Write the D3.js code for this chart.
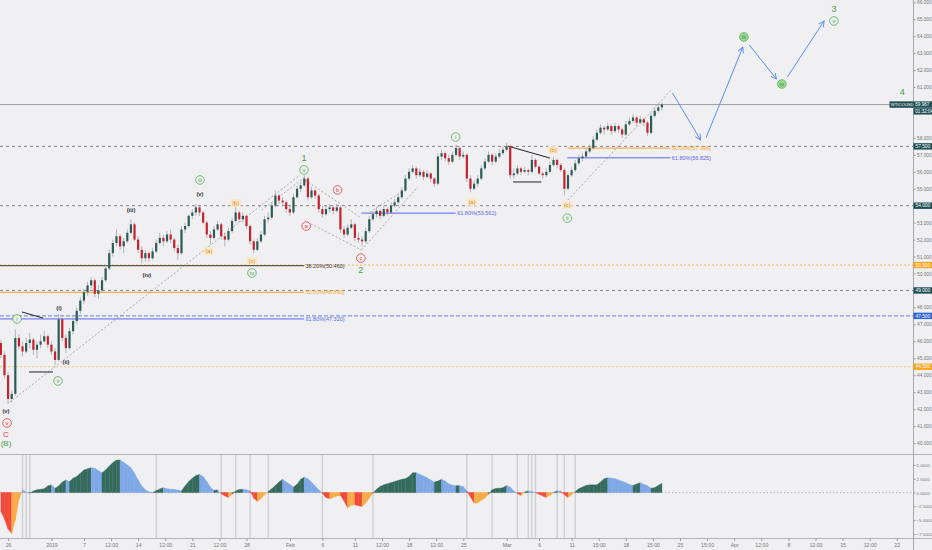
<!DOCTYPE html>
<html>
<head>
<meta charset="utf-8">
<script src="https://cdn.jsdelivr.net/npm/d3@7"></script>
<style>
body { margin: 0; background: #f0f0f2; }
svg { display: block; font-family: "Liberation Sans", Arial, sans-serif; }
</style>
</head>
<body>
<div id="chart"></div>
<script>
// WTI candles, 3 bars per trading day, [open, high, low, close]
const firstBarDay = -7.67
const barsPerDay = 3
const candles = [
  [45.9,46.1,45.0,45.2],[45.2,45.4,43.8,44.0],[44.0,44.2,42.3,42.6],[42.6,43.1,42.4,42.9],[42.9,46.7,42.8,46.2],
  [46.2,46.4,45.5,45.7],[45.7,46.0,45.1,45.4],[45.4,46.2,45.3,45.9],[45.9,46.5,45.6,46.1],[46.1,46.2,45.2,45.5],
  [45.5,46.0,45.0,45.8],[45.8,46.4,45.6,46.0],[46.0,46.6,45.9,46.3],[46.3,46.4,45.6,45.8],[45.8,46.0,45.2,45.4],
  [45.4,45.6,44.6,44.9],[44.9,47.6,44.8,47.3],[47.3,47.4,46.0,46.2],[46.2,46.4,45.3,45.6],[45.6,46.8,45.5,46.6],
  [46.6,47.4,46.4,47.2],[47.2,48.0,47.0,47.8],[47.8,48.6,47.6,48.4],[48.4,49.1,48.2,48.9],[48.9,49.5,48.7,49.3],
  [49.3,49.8,49.1,49.6],[49.6,49.7,48.6,48.8],[48.8,49.3,48.5,49.0],[49.0,49.8,48.9,49.6],[49.6,50.5,49.5,50.3],
  [50.3,51.4,50.2,51.2],[51.2,52.0,51.0,51.8],[51.8,52.6,51.6,52.2],[52.2,52.3,51.4,51.6],[51.6,52.1,51.2,51.9],
  [51.9,52.6,51.8,52.4],[52.4,53.2,52.3,52.9],[52.9,53.0,51.9,52.0],[52.0,52.2,51.2,51.4],[51.4,51.6,50.6,50.9],
  [50.9,51.4,50.7,51.2],[51.2,51.3,50.7,50.9],[50.9,51.5,50.8,51.3],[51.3,52.0,51.2,51.8],[51.8,52.4,51.7,52.1],
  [52.1,52.3,51.6,51.9],[51.9,52.5,51.8,52.3],[52.3,52.6,51.8,52.0],[52.0,52.1,51.3,51.5],[51.5,51.7,50.8,51.2],
  [51.2,52.8,51.1,52.6],[52.6,53.0,52.4,52.8],[52.8,53.5,52.7,53.4],[53.4,53.8,53.2,53.6],[53.6,54.1,53.4,53.9],
  [53.9,54.0,53.4,53.6],[53.6,53.7,52.9,53.0],[53.0,53.1,52.1,52.3],[52.3,52.5,51.7,52.1],[52.1,52.8,52.0,52.6],
  [52.6,53.1,52.5,52.9],[52.9,53.0,52.0,52.2],[52.2,52.4,51.6,52.0],[52.0,52.7,51.9,52.5],[52.5,53.3,52.4,53.1],
  [53.1,53.9,53.0,53.6],[53.6,53.7,53.0,53.2],[53.2,53.6,53.0,53.4],[53.4,53.5,52.6,52.8],[52.8,52.9,51.7,51.9],
  [51.9,52.0,51.2,51.4],[51.4,52.1,51.3,51.9],[51.9,52.5,51.8,52.3],[52.3,53.4,52.2,53.2],[53.2,53.6,53.0,53.3],
  [53.3,54.2,53.2,54.0],[54.0,54.9,53.9,54.6],[54.6,54.7,54.1,54.3],[54.3,54.5,54.0,54.2],[54.2,54.3,53.6,53.8],
  [53.8,54.0,53.4,53.6],[53.6,54.7,53.5,54.5],[54.5,55.2,54.4,55.0],[55.0,55.4,54.8,55.2],[55.2,55.8,55.1,55.6],
  [55.6,55.7,54.3,54.5],[54.5,55.1,54.4,54.9],[54.9,55.0,54.4,54.6],[54.6,54.7,53.6,53.8],[53.8,54.0,53.3,53.5],
  [53.5,54.0,53.4,53.8],[53.8,54.1,53.6,53.9],[53.9,54.0,53.5,53.7],[53.7,54.1,53.6,53.9],[53.9,54.0,52.4,52.6],
  [52.6,52.8,52.1,52.3],[52.3,52.9,52.2,52.7],[52.7,53.2,52.6,52.9],[52.9,53.0,51.9,52.1],[52.1,52.4,51.8,52.0],
  [52.0,52.2,51.6,51.9],[51.9,52.7,51.8,52.5],[52.5,53.4,52.4,53.2],[53.2,53.7,53.1,53.5],[53.5,53.9,53.3,53.7],
  [53.7,53.8,53.2,53.4],[53.4,54.0,53.3,53.8],[53.8,53.9,53.4,53.6],[53.6,54.2,53.5,54.0],[54.0,54.4,53.9,54.2],
  [54.2,54.7,54.1,54.5],[54.5,55.1,54.4,54.9],[54.9,55.8,54.8,55.6],[55.6,56.2,55.5,56.0],[56.0,56.4,55.9,56.2],
  [56.2,56.3,55.6,55.8],[55.8,56.2,55.7,56.0],[56.0,56.1,55.5,55.7],[55.7,56.1,55.6,55.9],[55.9,56.0,55.4,55.6],
  [55.6,55.7,55.1,55.3],[55.3,57.1,55.2,56.9],[56.9,57.3,56.7,57.1],[57.1,57.2,56.6,56.8],[56.8,57.0,56.4,56.6],
  [56.6,57.2,56.5,57.0],[57.0,57.6,56.9,57.4],[57.4,57.5,56.7,56.9],[56.9,57.2,56.8,57.0],[57.0,57.1,55.4,55.6],
  [55.6,55.8,54.8,55.0],[55.0,55.5,54.9,55.3],[55.3,55.8,55.1,55.6],[55.6,56.4,55.5,56.2],[56.2,56.8,56.1,56.6],
  [56.6,57.2,56.5,57.0],[57.0,57.1,56.4,56.6],[56.6,57.1,56.5,56.9],[56.9,57.3,56.8,57.1],[57.1,57.5,57.0,57.3],
  [57.3,57.7,57.2,57.5],[57.5,57.6,55.6,55.8],[55.8,56.2,55.6,55.9],[55.9,56.4,55.8,56.2],[56.2,56.3,55.8,56.0],
  [56.0,56.3,55.9,56.1],[56.1,56.2,55.8,56.0],[56.0,57.0,55.9,56.7],[56.7,56.8,56.2,56.3],[56.3,56.4,55.8,55.9],
  [55.9,56.0,55.6,55.8],[55.8,56.2,55.7,56.0],[56.0,56.6,55.9,56.4],[56.4,56.9,56.3,56.7],[56.7,56.8,56.2,56.4],
  [56.4,56.5,56.0,56.1],[56.1,56.2,54.6,55.0],[55.0,55.9,54.9,55.8],[55.8,56.3,55.7,56.1],[56.1,56.7,56.0,56.5],
  [56.5,57.0,56.4,56.8],[56.8,57.1,56.6,56.9],[56.9,57.4,56.8,57.2],[57.2,57.6,57.1,57.4],[57.4,58.1,57.3,57.9],
  [57.9,58.5,57.8,58.3],[58.3,58.8,58.2,58.6],[58.6,58.7,58.2,58.5],[58.5,58.9,58.4,58.7],[58.7,58.8,58.2,58.4],
  [58.4,58.9,58.3,58.7],[58.7,58.8,58.3,58.5],[58.5,58.6,58.0,58.2],[58.2,59.0,58.1,58.8],[58.8,59.2,58.7,59.0],
  [59.0,59.4,58.9,59.2],[59.2,59.3,58.7,58.9],[58.9,59.3,58.8,59.1],[59.1,59.2,58.7,58.9],[58.9,59.0,58.1,58.3],
  [58.3,59.5,58.2,59.3],[59.3,59.8,59.2,59.6],[59.6,60.0,59.5,59.8],[59.8,60.1,59.6,59.967]
]

// oscillator, one value per bar
const osc = [
  -3.4,-4.8,-6.6,-7.4,-5.0,-1.2,0.5,0.1,-0.1,0.3,0.5,0.6,0.7,1.2,1.4,0.8,1.2,1.9,2.3,2.0,
  2.6,2.9,3.5,4.1,4.3,4.5,4.4,4.0,3.6,4.1,4.8,5.4,5.9,5.9,5.5,5.0,4.5,3.5,2.3,1.2,
  0.5,0.15,0.0,0.35,0.65,0.9,0.7,0.6,0.55,0.45,0.3,1.2,2.0,2.6,3.1,3.3,2.9,2.0,1.0,0.4,
  0.5,-0.2,-0.6,-0.9,-0.3,0.3,0.55,0.6,0.5,0.3,-1.0,-1.6,-1.1,-0.4,0.2,0.7,1.3,1.9,2.4,1.9,
  1.5,1.0,1.5,2.4,2.8,2.5,1.9,1.2,0.5,-0.1,-0.9,-1.1,-0.9,-0.6,-0.5,-1.5,-2.8,-2.3,-2.2,-2.4,
  -2.5,-1.9,-1.0,-0.1,0.6,1.1,1.4,1.6,1.8,2.0,2.2,2.4,2.5,2.9,3.6,3.6,3.3,3.0,2.7,2.3,
  1.9,2.1,2.4,2.1,1.6,1.35,1.25,1.25,1.1,0.3,-0.8,-1.9,-1.9,-1.4,-1.0,-0.3,0.5,0.75,0.8,0.9,
  1.3,1.0,0.3,-0.2,-0.5,0.1,0.3,0.2,0.0,-0.3,-0.6,-0.9,-0.5,0.0,0.3,0.25,-0.4,-0.9,-0.4,0.2,
  0.7,1.0,1.3,1.4,1.4,1.4,1.9,2.5,2.7,2.65,2.5,2.3,2.05,1.8,1.45,1.3,1.55,1.8,1.5,1.25,
  0.8,0.9,1.3,1.7
]
const oscMarkers = [6, 7, 8, 43, 61, 65, 69, 74, 89, 103, 129, 136, 143, 146, 147, 148, 154, 156, 159]

// time axis labels, positions in trading days from 7 Jan
const dateLabels = ["26","2019","7","12:00","14","12:00","21","12:00","28","Feb","6","11","12:00","18","12:00",
  "25","Mar","6","11","15:00","18","15:00","25","15:00","Apr","12:00","8","12:00","15","12:00","22"]
const dateDays = [-7,-3,0,2.5,5,7.5,10,12.5,15,19,22,25,27.5,30,32.5,
  35,39,42,45,47.5,50,52.5,55,57.5,60,62.5,65,67.5,70,72.5,75]

// horizontal levels with price boxes
const levelPrices = [57.5, 54.0, 49.0, 50.5, 47.5, 44.5]
const levelKinds = ["dark", "dark", "dark", "orange", "blue", "yellow"]
const lastPrice = 59.967

// fibonacci lines: text, price, from day, to day, kind
const fibLines = [
  ["38.20%(50.460)", 50.46, -7.75, 20.3, "dark"],
  ["50.00%(48.890)", 48.89, -7.75, 20.3, "orange"],
  ["61.80%(47.320)", 47.32, -7.75, 20.3, "blue"],
  ["61.80%(53.562)", 53.562, 25.6, 34.3, "blue"],
  ["50.00%(57.396)", 57.396, 44.6, 54.1, "orange"],
  ["61.80%(56.825)", 56.825, 44.6, 54.1, "blue"]
]

// drawn trend lines [day1, price1, day2, price2]
const solidLines = [[-5.72,47.73,-3.78,47.37],[-5.07,44.19,-2.86,44.19],[39.1,57.52,43.0,56.81],[39.6,55.4,42.2,55.4]]
const dottedLines = [
  [-6.83,42.42,19.93,55.81],[16.4,53.75,20.4,55.69],[20.4,55.52,25.6,53.27],[20.6,53.04,25.6,51.39],
  [25.6,51.39,30.8,55.1],[26.4,53.63,29.6,54.93],[44.65,54.34,54.2,60.83]
]
// projected path arrows
const projection = [[54.3,60.65,56.9,57.88],[57.4,58.0,60.8,63.36],[61.4,63.48,63.9,61.47],[64.9,61.59,68.3,64.9]]

// wave labels: text, day, price, kind
const waveLabels = [
  ["(v)",-7.2,41.89,"dark"],["v",-7.1,41.18,"rcirc"],["C",-7.2,40.53,"red"],["(B)",-7.2,40.0,"green"],
  ["i",-6.18,47.32,"gcirc"],["ii",-2.4,43.66,"gcirc"],["(i)",-2.31,47.96,"dark"],["(ii)",-1.66,44.78,"dark"],
  ["(iii)",4.34,53.75,"dark"],["(iv)",5.81,49.91,"dark"],["(v)",10.7,54.69,"dark"],["iii",10.7,55.52,"gcirc"],
  ["(a)",11.53,51.33,"orange"],["(b)",14.0,54.16,"orange"],["(c)",15.5,50.74,"orange"],["iv",15.5,50.03,"gcirc"],
  ["1",20.3,56.81,"green"],["v",20.3,56.11,"gcirc"],["a",20.5,52.8,"rcirc"],["b",23.4,54.93,"rcirc"],
  ["c",25.55,50.91,"rcirc"],["2",25.55,50.21,"green"],["i",34.3,58.05,"gcirc"],["(a)",35.8,54.22,"orange"],
  ["(b)",43.3,57.29,"orange"],["(c)",44.6,54.04,"orange"],["ii",44.6,53.27,"gcirc"],
  ["3",69.2,65.6,"green"],["v",69.2,64.9,"gcirc"],["iii",60.9,63.95,"gfill"],["iv",64.4,61.18,"gfill"],["4",75.5,60.7,"green"]
]

const W = 932, H = 550
const axisX = 913, mainBottom = 454, oscBottom = 538
const bg = "#f0f0f2"
const colors = { dark: "#1f4f55", orange: "#f5a623", blue: "#2f62d6", yellow: "#f5a623" }
const lineColors = { dark: "#666", orange: "#f5a623", blue: "#3f63e0", yellow: "#e8c24a" }
const fibColors = { dark: "#3a3430", orange: "#f3a42a", blue: "#5866ee" }

const x = d3.scaleLinear().domain([-7.75, 76.5]).range([0, axisX])
const y = d3.scaleLinear().domain([40, 66]).range([443, 2.3])
const yOsc = d3.scaleLinear().domain([-7.5, 5]).range([534, 465])
const barDay = i => firstBarDay + i / barsPerDay

const svg = d3.select("#chart").append("svg")
  .attr("width", W)
  .attr("height", H)

svg.append("rect").attr("width", W).attr("height", H).attr("fill", bg)

const defs = svg.append("defs")
defs.append("clipPath").attr("id", "mainClip")
  .append("rect").attr("width", axisX).attr("height", mainBottom)
defs.append("marker").attr("id", "arrow")
  .attr("viewBox", "0 0 10 10").attr("refX", 9).attr("refY", 5)
  .attr("markerWidth", 7).attr("markerHeight", 7).attr("orient", "auto")
  .append("path").attr("d", "M1,1 L9,5 L1,9")
  .attr("fill", "none").attr("stroke", "#5b8def").attr("stroke-width", 1.3)

const main = svg.append("g").attr("clip-path", "url(#mainClip)")

// level lines
main.selectAll("line.level").data(levelPrices).enter().append("line")
  .attr("x1", 0).attr("x2", axisX)
  .attr("y1", d => y(d)).attr("y2", d => y(d))
  .attr("stroke", (d, i) => lineColors[levelKinds[i]])
  .attr("stroke-width", 0.8)
  .attr("stroke-dasharray", (d, i) => levelKinds[i] === "dark" ? "3,3" : levelKinds[i] === "blue" ? "4,2" : "2,2")

// last price line
main.append("line")
  .attr("x1", 0).attr("x2", axisX)
  .attr("y1", y(lastPrice)).attr("y2", y(lastPrice))
  .attr("stroke", "#8c8c8c").attr("stroke-width", 0.8)

// fib lines
main.selectAll("line.fib").data(fibLines).enter().append("line")
  .attr("x1", d => x(d[2])).attr("x2", d => x(d[3]))
  .attr("y1", d => y(d[1])).attr("y2", d => y(d[1]))
  .attr("stroke", d => fibColors[d[4]]).attr("stroke-width", 1)
main.selectAll("text.fib").data(fibLines).enter().append("text")
  .attr("x", d => x(d[3]) + 1.5).attr("y", d => y(d[1]) + 2)
  .attr("font-size", 5.5).attr("fill", d => fibColors[d[4]])
  .text(d => d[0])

// trend lines
main.selectAll("line.dotted").data(dottedLines).enter().append("line")
  .attr("x1", d => x(d[0])).attr("y1", d => y(d[1]))
  .attr("x2", d => x(d[2])).attr("y2", d => y(d[3]))
  .attr("stroke", "#888").attr("stroke-width", 0.7).attr("stroke-dasharray", "2,2")
main.selectAll("line.solid").data(solidLines).enter().append("line")
  .attr("x1", d => x(d[0])).attr("y1", d => y(d[1]))
  .attr("x2", d => x(d[2])).attr("y2", d => y(d[3]))
  .attr("stroke", "#222").attr("stroke-width", 1)

// candles
main.selectAll("line.wick").data(candles).enter().append("line")
  .attr("x1", (d, i) => x(barDay(i))).attr("x2", (d, i) => x(barDay(i)))
  .attr("y1", d => y(d[1])).attr("y2", d => y(d[2]))
  .attr("stroke", "#9a9a9a").attr("stroke-width", 0.7)
main.selectAll("rect.body").data(candles).enter().append("rect")
  .attr("x", (d, i) => x(barDay(i)) - 1.1)
  .attr("width", 2.2)
  .attr("y", d => y(Math.max(d[0], d[3])))
  .attr("height", d => Math.max(0.8, Math.abs(y(d[0]) - y(d[3]))))
  .attr("fill", d => d[3] >= d[0] ? "#2b5c57" : "#c8202e")

// projection arrows
main.selectAll("line.proj").data(projection).enter().append("line")
  .attr("x1", d => x(d[0])).attr("y1", d => y(d[1]))
  .attr("x2", d => x(d[2])).attr("y2", d => y(d[3]))
  .attr("stroke", "#5b8def").attr("stroke-width", 1)
  .attr("marker-end", "url(#arrow)")

// wave labels
const labels = main.selectAll("g.wave").data(waveLabels).enter().append("g")
  .attr("transform", d => `translate(${x(d[1])},${y(d[2])})`)
labels.filter(d => /circ|fill/.test(d[3])).append("circle")
  .attr("r", 4.3)
  .attr("fill", d => d[3] === "gfill" ? "#9bdc95" : bg)
  .attr("stroke", d => d[3] === "rcirc" ? "#e53935" : "#4caf50")
  .attr("stroke-width", 0.8)
labels.filter(d => d[3] === "orange").append("rect")
  .attr("x", -5.5).attr("y", -4).attr("width", 11).attr("height", 8)
  .attr("fill", "#fbe7c6").attr("opacity", 0.8)
labels.append("text")
  .attr("text-anchor", "middle").attr("dy", "0.35em")
  .attr("font-size", d => d[3] === "green" ? (d[0].length === 1 ? 9 : 8) : d[3] === "red" ? 8 : 5.8)
  .attr("font-weight", d => d[3] === "dark" ? "bold" : "normal")
  .attr("fill", d => ({ dark: "#333", rcirc: "#e53935", red: "#e53935", orange: "#d98b12", gfill: "#2e7d32" })[d[3]] || "#43a047")
  .text(d => d[0])

// oscillator pane
svg.selectAll("line.marker").data(oscMarkers).enter().append("line")
  .attr("x1", d => x(barDay(d))).attr("x2", d => x(barDay(d)))
  .attr("y1", mainBottom + 1).attr("y2", oscBottom)
  .attr("stroke", "#d0d0d2").attr("stroke-width", 1.4)

svg.append("line")
  .attr("x1", 0).attr("x2", axisX)
  .attr("y1", yOsc(0)).attr("y2", yOsc(0))
  .attr("stroke", "#999").attr("stroke-width", 0.7).attr("stroke-dasharray", "1.5,2")

const oscColor = s => {
  const mid = (s.a + s.b) / 2
  if (mid >= 0) return s.b >= s.a ? "#346b5d" : "#7ea8e6"
  return s.b < s.a ? "#f24a3a" : "#f8ab46"
}
const segs = d3.range(osc.length - 1).map(i => ({ i: i, a: osc[i], b: osc[i + 1] }))
svg.selectAll("path.osc").data(segs).enter().append("path")
  .attr("d", s => {
    const x0 = x(barDay(s.i)), x1 = x(barDay(s.i + 1)), z = yOsc(0)
    return `M${x0},${z}L${x0},${yOsc(s.a)}L${x1},${yOsc(s.b)}L${x1},${z}Z`
  })
  .attr("fill", oscColor)
  .attr("stroke", oscColor)
  .attr("stroke-width", 0.4)

// frame lines
svg.append("line").attr("x1", 0).attr("x2", W).attr("y1", mainBottom + 0.5).attr("y2", mainBottom + 0.5)
  .attr("stroke", "#b5b5b8").attr("stroke-width", 1)
svg.append("line").attr("x1", 0).attr("x2", W).attr("y1", oscBottom + 0.5).attr("y2", oscBottom + 0.5)
  .attr("stroke", "#b5b5b8").attr("stroke-width", 1)
svg.append("line").attr("x1", axisX + 0.5).attr("x2", axisX + 0.5).attr("y1", 0).attr("y2", H)
  .attr("stroke", "#a8a8ab").attr("stroke-width", 1)

// price axis, skipping ticks hidden under the price boxes
const boxPrices = levelPrices.concat([lastPrice])
const priceTicks = d3.range(40, 67).filter(p => boxPrices.every(b => Math.abs(y(p) - y(b)) > 5) && p !== 59)
const priceAxis = svg.append("g")
  .attr("transform", `translate(${axisX + 0.5},0)`)
  .call(d3.axisRight(y).tickValues(priceTicks).tickFormat(d3.format(".3f")).tickSize(2).tickPadding(1.5))
const oscAxis = svg.append("g")
  .attr("transform", `translate(${axisX + 0.5},0)`)
  .call(d3.axisRight(yOsc).tickValues([-7.5, -5, -2.5, 0, 2.5, 5]).tickFormat(d3.format(".4f")).tickSize(2).tickPadding(1))
const dateAxis = svg.append("g")
  .attr("transform", `translate(0,${oscBottom + 0.5})`)
  .call(d3.axisBottom(x).tickValues(dateDays).tickFormat((d, i) => dateLabels[i]).tickSize(2.5).tickPadding(2))
;[priceAxis, oscAxis, dateAxis].forEach(g => {
  g.select(".domain").remove()
  g.selectAll("line").attr("stroke", "#999")
  g.selectAll("text").attr("font-size", 4.8).attr("fill", "#777").attr("font-family", "Liberation Sans, Arial, sans-serif")
})
oscAxis.selectAll("text").attr("font-size", 4.4)
dateAxis.selectAll("text").attr("font-size", 5.2)

// price boxes on the axis
const boxes = svg.selectAll("g.box").data(levelPrices).enter().append("g")
  .attr("transform", d => `translate(${axisX + 0.5},${y(d)})`)
boxes.append("rect")
  .attr("x", 0).attr("y", -3.2).attr("width", 18.5).attr("height", 6.4)
  .attr("fill", (d, i) => colors[levelKinds[i]])
boxes.append("text")
  .attr("x", 2).attr("dy", "0.35em").attr("font-size", 4.8)
  .attr("fill", "#fff").text(d => d3.format(".3f")(d))

// last price tag: symbol part left of the axis, value on the axis
const last = svg.append("g").attr("transform", `translate(${axisX + 0.5},${y(lastPrice)})`)
last.append("rect").attr("x", -24).attr("y", -3.2).attr("width", 42.5).attr("height", 6.4).attr("fill", "#1f4f55")
last.append("text").attr("x", -22.8).attr("dy", "0.35em").attr("font-size", 4.2).attr("fill", "#fff")
  .text("WTICOUSD ·")
last.append("text").attr("x", 1.8).attr("dy", "0.35em").attr("font-size", 4.6).attr("fill", "#fff")
  .text(d3.format(".3f")(lastPrice))
last.append("rect").attr("x", 0).attr("y", 3.6).attr("width", 18.5).attr("height", 6.4).attr("fill", "#1f4f55")
last.append("text").attr("x", 1.8).attr("y", 6.8).attr("dy", "0.35em").attr("font-size", 4.6).attr("fill", "#fff")
  .text("01:32:04")
</script>
</body>
</html>
